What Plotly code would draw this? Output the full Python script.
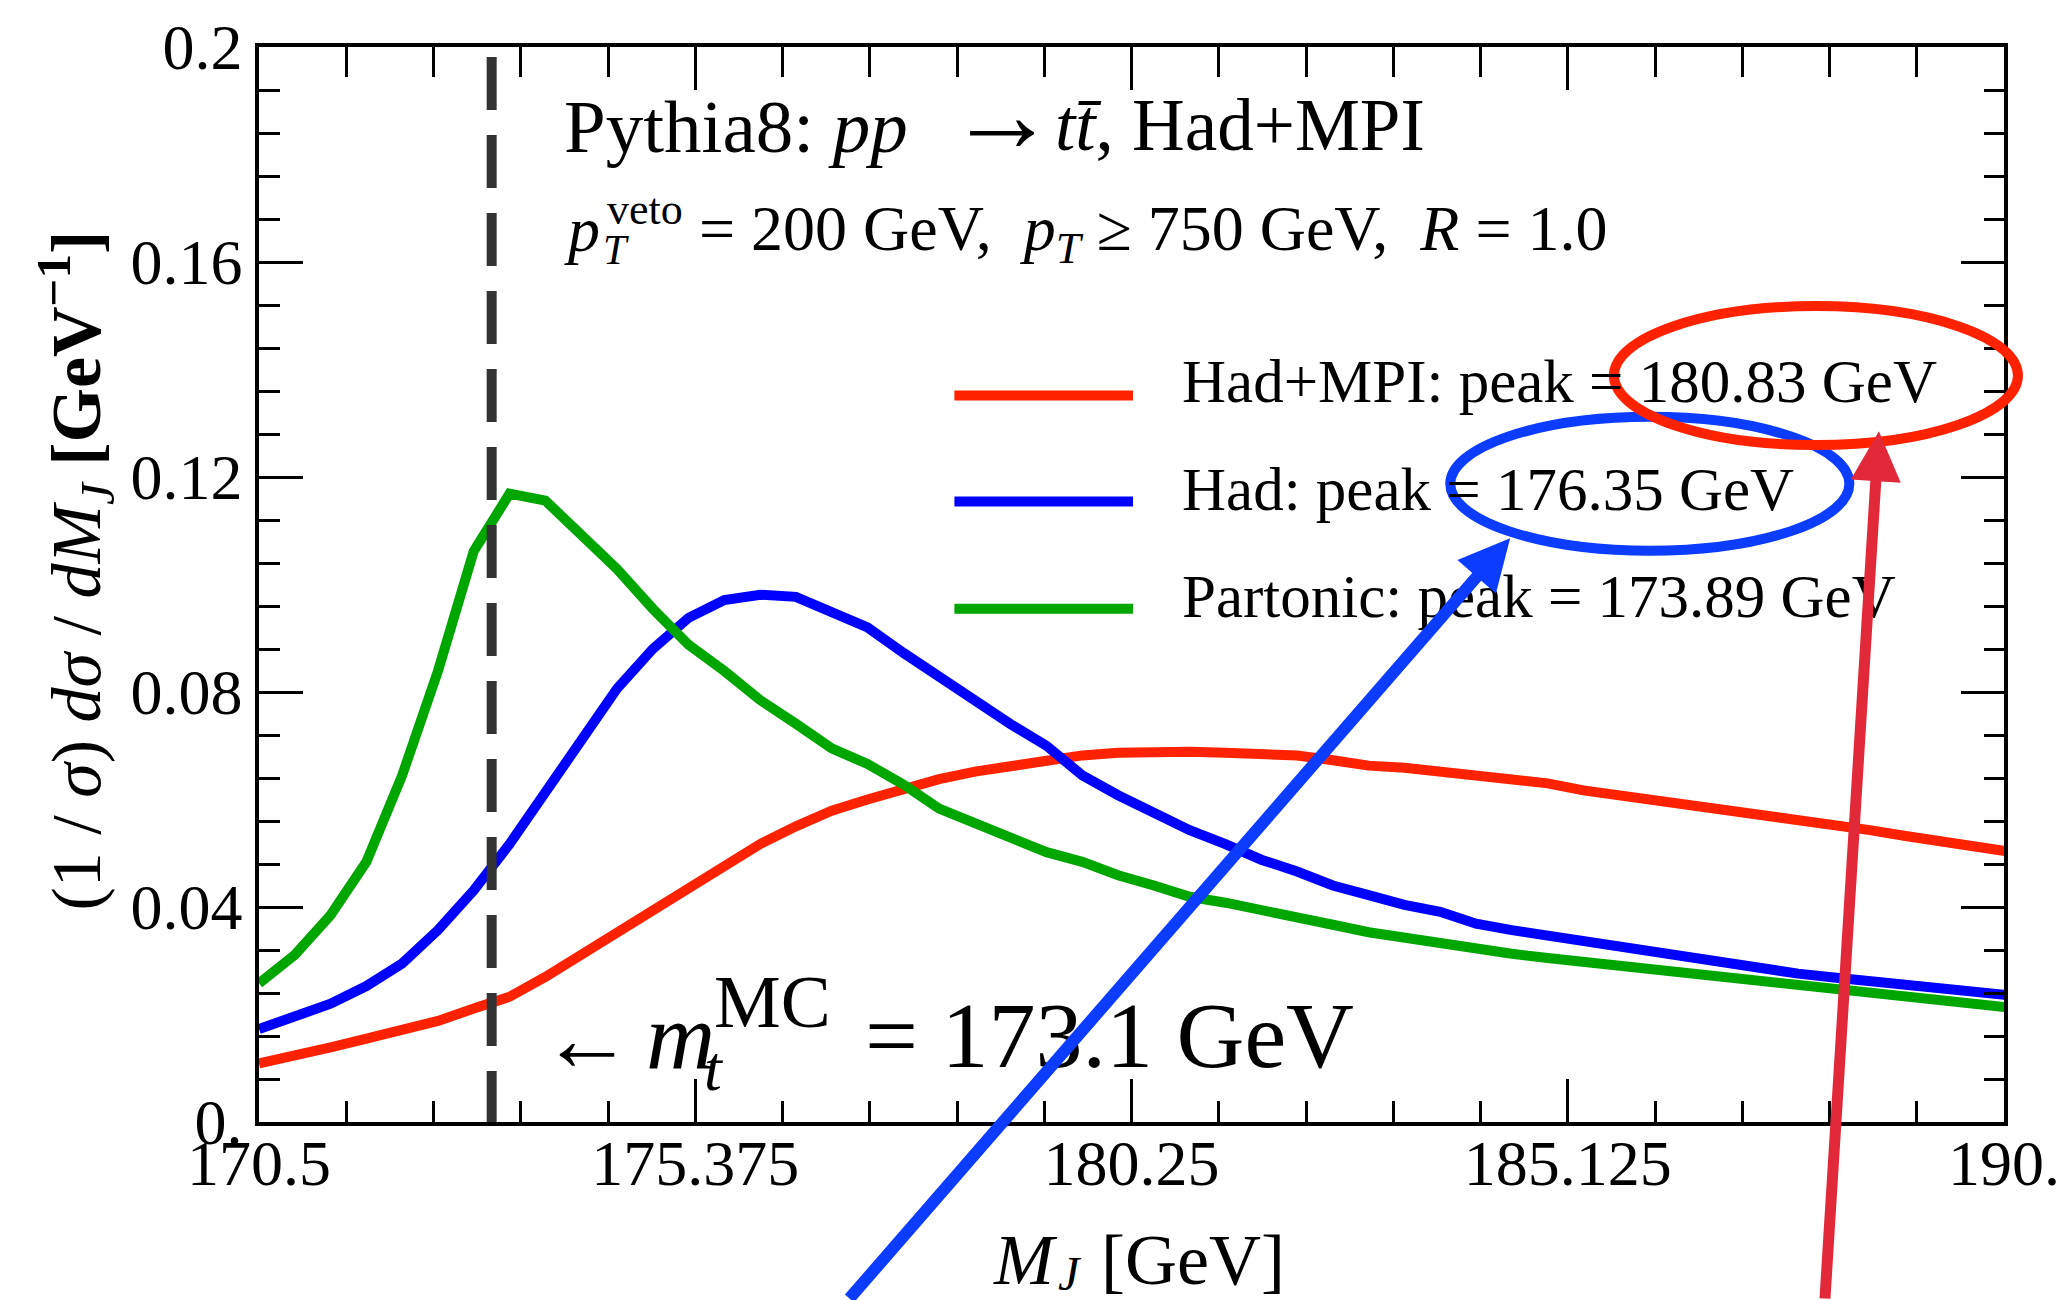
import plotly.graph_objects as go

# Jet-mass grid (GeV) and normalised distributions (1/sigma) dsigma/dM_J
mass = [170.5, 170.9, 171.3, 171.7, 172.1, 172.5, 172.9, 173.3, 173.7, 174.1,
        174.5, 174.9, 175.3, 175.7, 176.1, 176.5, 176.9, 177.3, 177.7, 178.1,
        178.5, 178.9, 179.3, 179.7, 180.1, 180.5, 180.9, 181.3, 181.7, 182.1,
        182.5, 182.9, 183.3, 183.7, 184.1, 184.5, 184.9, 185.3, 185.7, 186.1,
        186.5, 186.9, 187.3, 187.7, 188.1, 188.5, 188.9, 189.3, 189.7, 190.1]

had_mpi = [0.0109, 0.0126, 0.0139, 0.0155, 0.0171, 0.0188, 0.0211, 0.0233, 0.0270, 0.0311,
           0.0353, 0.0393, 0.0435, 0.0477, 0.0517, 0.0550, 0.0579, 0.0600, 0.0620, 0.0638,
           0.0652, 0.0663, 0.0674, 0.0682, 0.0687, 0.0689, 0.0689, 0.0687, 0.0685, 0.0682,
           0.0673, 0.0663, 0.0659, 0.0651, 0.0645, 0.0638, 0.0630, 0.0617, 0.0608, 0.0601,
           0.0592, 0.0583, 0.0573, 0.0565, 0.0554, 0.0543, 0.0532, 0.0522, 0.0514, 0.0502]

had = [0.0173, 0.0196, 0.0220, 0.0253, 0.0295, 0.0357, 0.0431, 0.0517, 0.0612, 0.0711,
       0.0806, 0.0880, 0.0938, 0.0971, 0.0981, 0.0977, 0.0950, 0.0920, 0.0873, 0.0828,
       0.0788, 0.0740, 0.0700, 0.0645, 0.0608, 0.0576, 0.0543, 0.0517, 0.0488, 0.0466,
       0.0440, 0.0422, 0.0404, 0.0391, 0.0369, 0.0357, 0.0347, 0.0335, 0.0325, 0.0314,
       0.0304, 0.0296, 0.0286, 0.0276, 0.0269, 0.0262, 0.0254, 0.0248, 0.0241, 0.0235]

partonic = [0.0258, 0.0311, 0.0385, 0.0484, 0.0645, 0.0839, 0.1062, 0.1169, 0.1156, 0.1094,
            0.1029, 0.0955, 0.0888, 0.0839, 0.0785, 0.0741, 0.0695, 0.0666, 0.0628, 0.0583,
            0.0557, 0.0532, 0.0502, 0.0484, 0.0459, 0.0440, 0.0419, 0.0408, 0.0393, 0.0378,
            0.0367, 0.0353, 0.0342, 0.0334, 0.0324, 0.0313, 0.0305, 0.0298, 0.0291, 0.0283,
            0.0276, 0.0267, 0.0260, 0.0253, 0.0247, 0.0242, 0.0236, 0.0229, 0.0221, 0.0212]

series_names = ["Had+MPI", "Had", "Partonic"]
peaks = [180.83, 176.35, 173.89]
mt_mc = 173.1

x_ticks = [170.5, 175.375, 180.25, 185.125, 190.0]
x_ticktext = ["170.5", "175.375", "180.25", "185.125", "190."]
y_ticks = [0.0, 0.04, 0.08, 0.12, 0.16, 0.2]
y_ticktext = ["0.", "0.04", "0.08", "0.12", "0.16", "0.2"]

RED, BLUE, GREEN = "#ff2200", "#0000ff", "#00a600"
MARK_BLUE, MARK_RED = "#0c3cff", "#e2293a"
SERIF = "Liberation Serif"
NB = "\u00a0"

# canvas and frame geometry in pixels
W, H = 2072, 1300
L, R, T, B = 259, 2008, 39, 1122


def px(x):
    return (x - L) / (R - L)


def py(y):
    return (B - y) / (B - T)


def text(t, x, y, size, xanchor="left", yanchor="top", angle=0):
    return dict(text=t, x=px(x), y=py(y), xref="paper", yref="paper",
                xanchor=xanchor, yanchor=yanchor, showarrow=False, textangle=angle,
                font=dict(family=SERIF, size=size, color="black"))


fig = go.Figure()
for name, vals, col in zip(series_names, [had_mpi, had, partonic], [RED, BLUE, GREEN]):
    fig.add_trace(go.Scatter(x=mass, y=vals, mode="lines", name=name,
                             line=dict(color=col, width=10), showlegend=False,
                             hoverinfo="skip"))
# carrier for the mirrored frame axes
fig.add_trace(go.Scatter(x=[], y=[], xaxis="x2", yaxis="y2", showlegend=False,
                         hoverinfo="skip"))

axis_common = dict(showgrid=False, zeroline=False, showline=True, linecolor="black",
                   linewidth=3.5, ticks="inside", tickcolor="black", tickwidth=3)

fig.update_layout(
    width=W, height=H,
    margin=dict(l=L, r=W - R, t=T, b=H - B, pad=0),
    paper_bgcolor="white", plot_bgcolor="white",
    xaxis=dict(range=[170.5, 190.0], tickmode="array", tickvals=x_ticks,
               ticktext=x_ticktext, ticklen=43, ticklabelstandoff=-18,
               tickfont=dict(family=SERIF, size=64, color="black"),
               minor=dict(tick0=170.5, dtick=0.975, ticks="inside", ticklen=21,
                          tickwidth=3, tickcolor="black"),
               **axis_common),
    xaxis2=dict(range=[170.5, 190.0], overlaying="x", side="top", anchor="y2",
                tickmode="array", tickvals=x_ticks, ticklen=43, showticklabels=False,
                minor=dict(tick0=170.5, dtick=0.975, ticks="inside", ticklen=30,
                           tickwidth=3, tickcolor="black"),
                **axis_common),
    yaxis=dict(range=[0, 0.2], tickmode="array", tickvals=y_ticks, ticktext=y_ticktext,
               ticklen=44, tickfont=dict(family=SERIF, size=64, color="black"),
               minor=dict(tick0=0, dtick=0.008, ticks="inside", ticklen=21,
                          tickwidth=3, tickcolor="black"),
               **axis_common),
    yaxis2=dict(range=[0, 0.2], overlaying="y", side="right", anchor="x2",
                tickmode="array", tickvals=y_ticks, ticklen=43, showticklabels=False,
                minor=dict(tick0=0, dtick=0.008, ticks="inside", ticklen=20,
                           tickwidth=3, tickcolor="black"),
                **axis_common),
)

shapes = []
# top-quark MC mass marker
shapes.append(dict(type="line", xref="x", yref="paper", x0=mt_mc, x1=mt_mc,
                   y0=py(49), y1=0, layer="above",
                   line=dict(color="#333333", width=10, dash="53px,25px")))
# legend swatches
for yy, col in zip([390, 497, 605], [RED, BLUE, GREEN]):
    shapes.append(dict(type="line", xref="paper", yref="paper", x0=px(956), x1=px(1135),
                       y0=py(yy), y1=py(yy), line=dict(color=col, width=10), layer="above"))
# highlight ellipses around the peak values
shapes.append(dict(type="circle", xref="paper", yref="paper", x0=px(1453), x1=px(1853),
                   y0=py(411.5), y1=py(546.5), line=dict(color=MARK_BLUE, width=10),
                   layer="above"))
shapes.append(dict(type="circle", xref="paper", yref="paper", x0=px(1617), x1=px(2022),
                   y0=py(300), y1=py(440), line=dict(color=RED, width=10), layer="above"))
fig.update_layout(shapes=shapes)

ann = []
# process label
ann.append(text("Pythia8: <i>pp</i>", 563, 74.8, 75))
ann.append(text("→", 1004, 107, 108, xanchor="center", yanchor="middle"))
ann.append(text("<i>t</i><i>t\u0304</i>, Had+MPI", 1055, 75.5, 73))
# cuts
ann.append(text("<i>p</i>", 563, 184.6, 64))
ann.append(text("<i>T</i>", 602, 218, 42))
ann.append(text("veto", 606, 176.5, 44))
ann.append(text(f"= 200 GeV,{NB}{NB}<i>p</i><sub><i>T</i></sub> ≥ 750 GeV,{NB}{NB}<i>R</i> = 1.0",
                698, 184.0, 64))
# legend entries
for name, pk, yy in zip(series_names, peaks, [340.5, 448.8, 557.2]):
    ann.append(text(f"{name}: peak = {pk:.2f} GeV", 1182, yy, 61))
# MC top mass
ann.append(text("←", 588, 1038, 92, xanchor="center", yanchor="middle"))
ann.append(text("<i>m</i>", 645, 980.2, 96))
ann.append(text("<i>t</i>", 703, 1030, 64))
ann.append(text("MC", 713, 957.2, 75))
ann.append(text(f"= {mt_mc} GeV", 864, 980.2, 94))
# axis titles
ann.append(text("<i>M</i>", 993, 1219, 72))
ann.append(text("<i>J</i>", 1058, 1246, 48))
ann.append(text("[GeV]", 1101, 1219, 72))
ann.append(text(f"(1{NB}/{NB}<i>σ</i>){NB}<i>dσ</i>{NB}/{NB}<i>dM</i><sub><i>J</i></sub> "
                "<b>[GeV<sup>−1</sup>]</b>", 75, 566, 70,
                xanchor="center", yanchor="middle", angle=-90))

# pointer arrows (added last so they sit over the text); tails end on the bottom edge
ann.append(dict(text="", x=px(1513), y=py(534), xref="paper", yref="paper",
                showarrow=True, arrowhead=2, arrowsize=0.85, arrowwidth=12,
                arrowcolor=MARK_BLUE, ax=-662, ay=766, standoff=0))
ann.append(dict(text="", x=px(1882.6), y=py(426), xref="paper", yref="paper",
                showarrow=True, arrowhead=2, arrowsize=0.91, arrowwidth=11,
                arrowcolor=MARK_RED, ax=-54, ay=874, standoff=0))
fig.update_layout(annotations=ann)

fig.write_html("out.html")
